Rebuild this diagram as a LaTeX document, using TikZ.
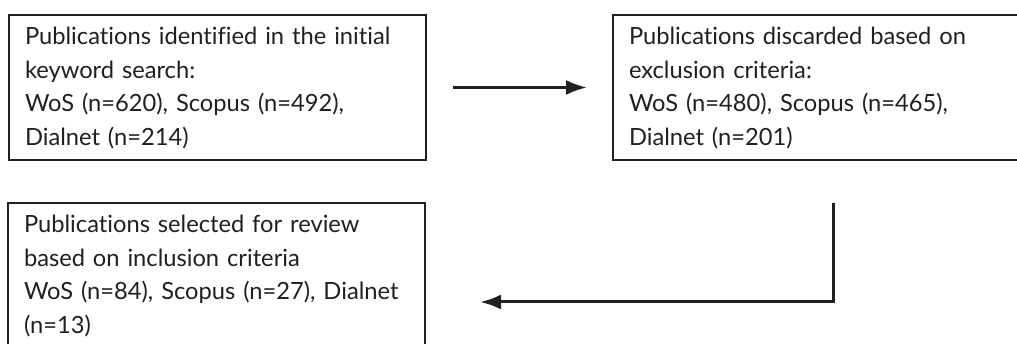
\documentclass[tikz,border=0pt]{standalone}
\usepackage{fontspec}
\setmainfont{Lato}[Ligatures=NoCommon]
\usepackage{tikz}
\usetikzlibrary{calc, positioning, arrows.meta}
\definecolor{ink}{RGB}{35,31,32}
\tikzstyle{box}=[draw=ink, line width=2pt, shape=rectangle, anchor=north west, align=left, inner xsep=16pt, inner ysep=6pt, outer sep=0pt, text=ink, font=\fontsize{23.7}{33.5}\selectfont, text height=24pt, text depth=109pt]
\tikzstyle{flow}=[draw=ink, line width=3pt]
\tikzset{>={Latex[length=21pt,width=15pt]}}

\begin{document}
\begin{tikzpicture}[x=1pt, y=-1pt]
\useasboundingbox (0,0) rectangle (1017,344);
\node[box, text width=385pt] (ident) at (9,15) {Publications identified in the initial\\keyword search:\\WoS (n=620), Scopus (n=492),\\Dialnet (n=214)};
\node[box, text width=400pt] (disc) at (613,15) {Publications discarded based on\\exclusion criteria:\\WoS (n=480), Scopus (n=465),\\Dialnet (n=201)};
\node[box, text width=385pt, text depth=140pt] (sel) at (8,203) {Publications selected for review\\based on inclusion criteria\\WoS (n=84), Scopus (n=27), Dialnet\\(n=13)};
%
\coordinate (drop) at (833,203);
\coordinate (back) at (480,302);
%
\draw[flow, ->, shorten <=27pt, shorten >=26pt] (ident) -- (disc);
\draw[flow, ->] (drop) |- (back);
\end{tikzpicture}
\end{document}
